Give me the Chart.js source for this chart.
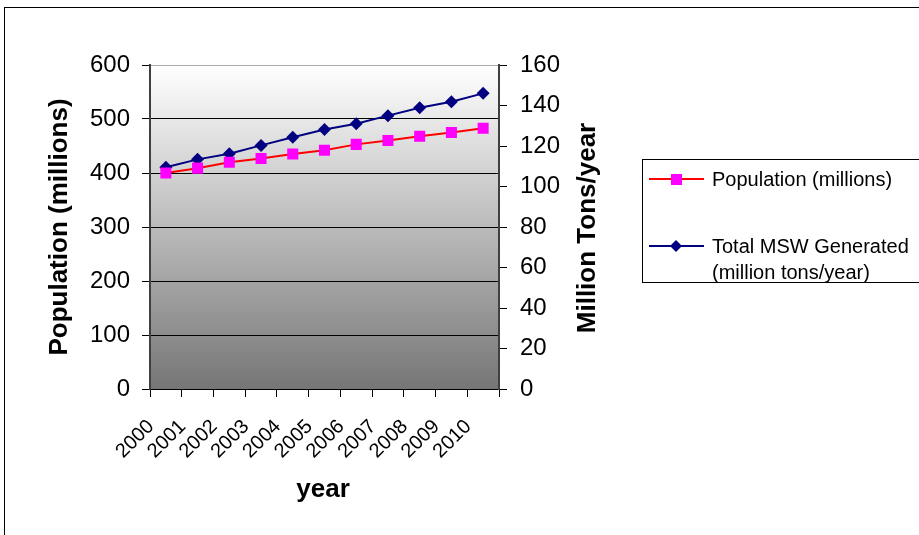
<!DOCTYPE html>
<html>
<head>
<meta charset="utf-8">
<script src="https://cdn.jsdelivr.net/npm/chart.js@4/dist/chart.umd.min.js"></script>
<style>
  html, body { margin: 0; padding: 0; background: #fff; }
  #myChart { display: block; }
</style>
</head>
<body>
<canvas id="myChart" width="919" height="535"></canvas>
<script>
var years = ["2000","2001","2002","2003","2004","2005","2006","2007","2008","2009","2010"];
var population_list = [400, 409, 420, 427, 435, 442, 453, 460, 468, 475, 483];
var msw_list = [109.5, 113.4, 116.2, 120.3, 124.3, 128.1, 131.0, 135.0, 138.9, 141.9, 146.0];
var popLabel = "Population (millions)";
var mswLabel = ["Total MSW Generated", "(million tons/year)"];

var FONT = '"Liberation Sans", Arial, sans-serif';

// gray gradient behind the plot + outer frame
var backdrop = {
  id: "backdrop",
  beforeDraw: function(chart){
    var c = chart.ctx, a = chart.chartArea;
    c.save();
    c.strokeStyle = "#000";
    c.lineWidth = 1;
    c.strokeRect(4.5, 7.5, 1000, 1000);
    var g = c.createLinearGradient(0, a.top, 0, a.bottom);
    g.addColorStop(0, "#ffffff");
    g.addColorStop(1, "#767676");
    c.fillStyle = g;
    c.fillRect(a.left, a.top, a.right - a.left, a.bottom - a.top);
    c.restore();
  }
};

// axis titles and the boxed legend on the right
var extras = {
  id: "extras",
  afterDraw: function(chart){
    var c = chart.ctx;
    var ds = chart.data.datasets;
    c.save();
    c.fillStyle = "#000";
    c.font = "bold 26px " + FONT;
    c.textAlign = "center";
    c.textBaseline = "alphabetic";
    c.fillText("year", 323, 497);
    c.save();
    c.translate(67, 227);
    c.rotate(-Math.PI / 2);
    c.fillText("Population (millions)", 0, 0);
    c.restore();
    c.save();
    c.translate(595, 228);
    c.rotate(-Math.PI / 2);
    c.fillText("Million Tons/year", 0, 0);
    c.restore();

    // legend
    c.strokeStyle = "#000";
    c.lineWidth = 1;
    c.strokeRect(642.5, 159.5, 400, 123);
    c.font = "20px " + FONT;
    c.textAlign = "left";
    c.textBaseline = "middle";

    c.strokeStyle = ds[0].borderColor;
    c.lineWidth = 2;
    c.beginPath(); c.moveTo(649, 179); c.lineTo(704, 179); c.stroke();
    c.fillStyle = ds[0].pointBackgroundColor;
    c.fillRect(671, 174, 11, 11);
    c.fillStyle = "#000";
    c.fillText(ds[0].label, 712, 180);

    c.strokeStyle = ds[1].borderColor;
    c.beginPath(); c.moveTo(649, 246); c.lineTo(704, 246); c.stroke();
    c.fillStyle = ds[1].pointBackgroundColor;
    c.beginPath();
    c.moveTo(676, 240); c.lineTo(682, 246); c.lineTo(676, 252); c.lineTo(670, 246);
    c.closePath(); c.fill();
    c.fillStyle = "#000";
    c.fillText(ds[1].label[0], 712, 247);
    c.fillText(ds[1].label[1], 712, 273);
    c.restore();
  }
};

var myChart = new Chart(document.getElementById("myChart"), {
  type: "line",
  data: {
    labels: years,
    datasets: [{
      label: popLabel,
      data: population_list,
      yAxisID: "y",
      borderColor: "#FF0000",
      borderWidth: 2,
      pointStyle: "rect",
      pointRadius: 7.8,
      pointHoverRadius: 7.8,
      pointBackgroundColor: "#FF00FF",
      pointBorderColor: "#FF00FF",
      pointBorderWidth: 0,
      tension: 0
    },{
      label: mswLabel,
      data: msw_list,
      yAxisID: "y1",
      borderColor: "#000080",
      borderWidth: 2,
      pointStyle: "rectRot",
      pointRadius: 6.5,
      pointHoverRadius: 6.5,
      pointBackgroundColor: "#000080",
      pointBorderColor: "#000080",
      pointBorderWidth: 0,
      tension: 0
    }]
  },
  options: {
    responsive: false,
    animation: false,
    events: [],
    layout: { padding: { left: 0, top: 65, right: 310, bottom: 26 } },
    plugins: { legend: { display: false }, tooltip: { enabled: false } },
    scales: {
      x: {
        offset: true,
        grid: { offset: true, drawOnChartArea: false, tickLength: 8, tickColor: "#000", lineWidth: 1 },
        border: { display: true, color: "#000", width: 1 },
        ticks: {
          autoSkip: false, minRotation: 45, maxRotation: 45,
          color: "#000", font: { family: FONT, size: 20 },
          padding: 18, labelOffset: -15
        },
        afterFit: function(s){ s.height = 120; }
      },
      y: {
        position: "left",
        min: 0, max: 600,
        ticks: { stepSize: 100, color: "#000", font: { family: FONT, size: 24 }, padding: 12 },
        grid: {
          color: function(ctx){ return ctx.tick && ctx.tick.value === 600 ? "#aaaaaa" : "#000"; },
          tickColor: "#000", tickLength: 8, lineWidth: 1
        },
        border: { display: true, color: "#404040", width: 2 },
        afterFit: function(s){ s.width = 150; }
      },
      y1: {
        position: "right",
        min: 0, max: 160,
        ticks: { stepSize: 20, color: "#000", font: { family: FONT, size: 24 }, padding: 13 },
        grid: { drawOnChartArea: false, tickColor: "#000", tickLength: 8, lineWidth: 1 },
        border: { display: true, color: "#404040", width: 2 },
        afterFit: function(s){ s.width = 110; }
      }
    }
  },
  plugins: [backdrop, extras]
});
</script>
</body>
</html>
